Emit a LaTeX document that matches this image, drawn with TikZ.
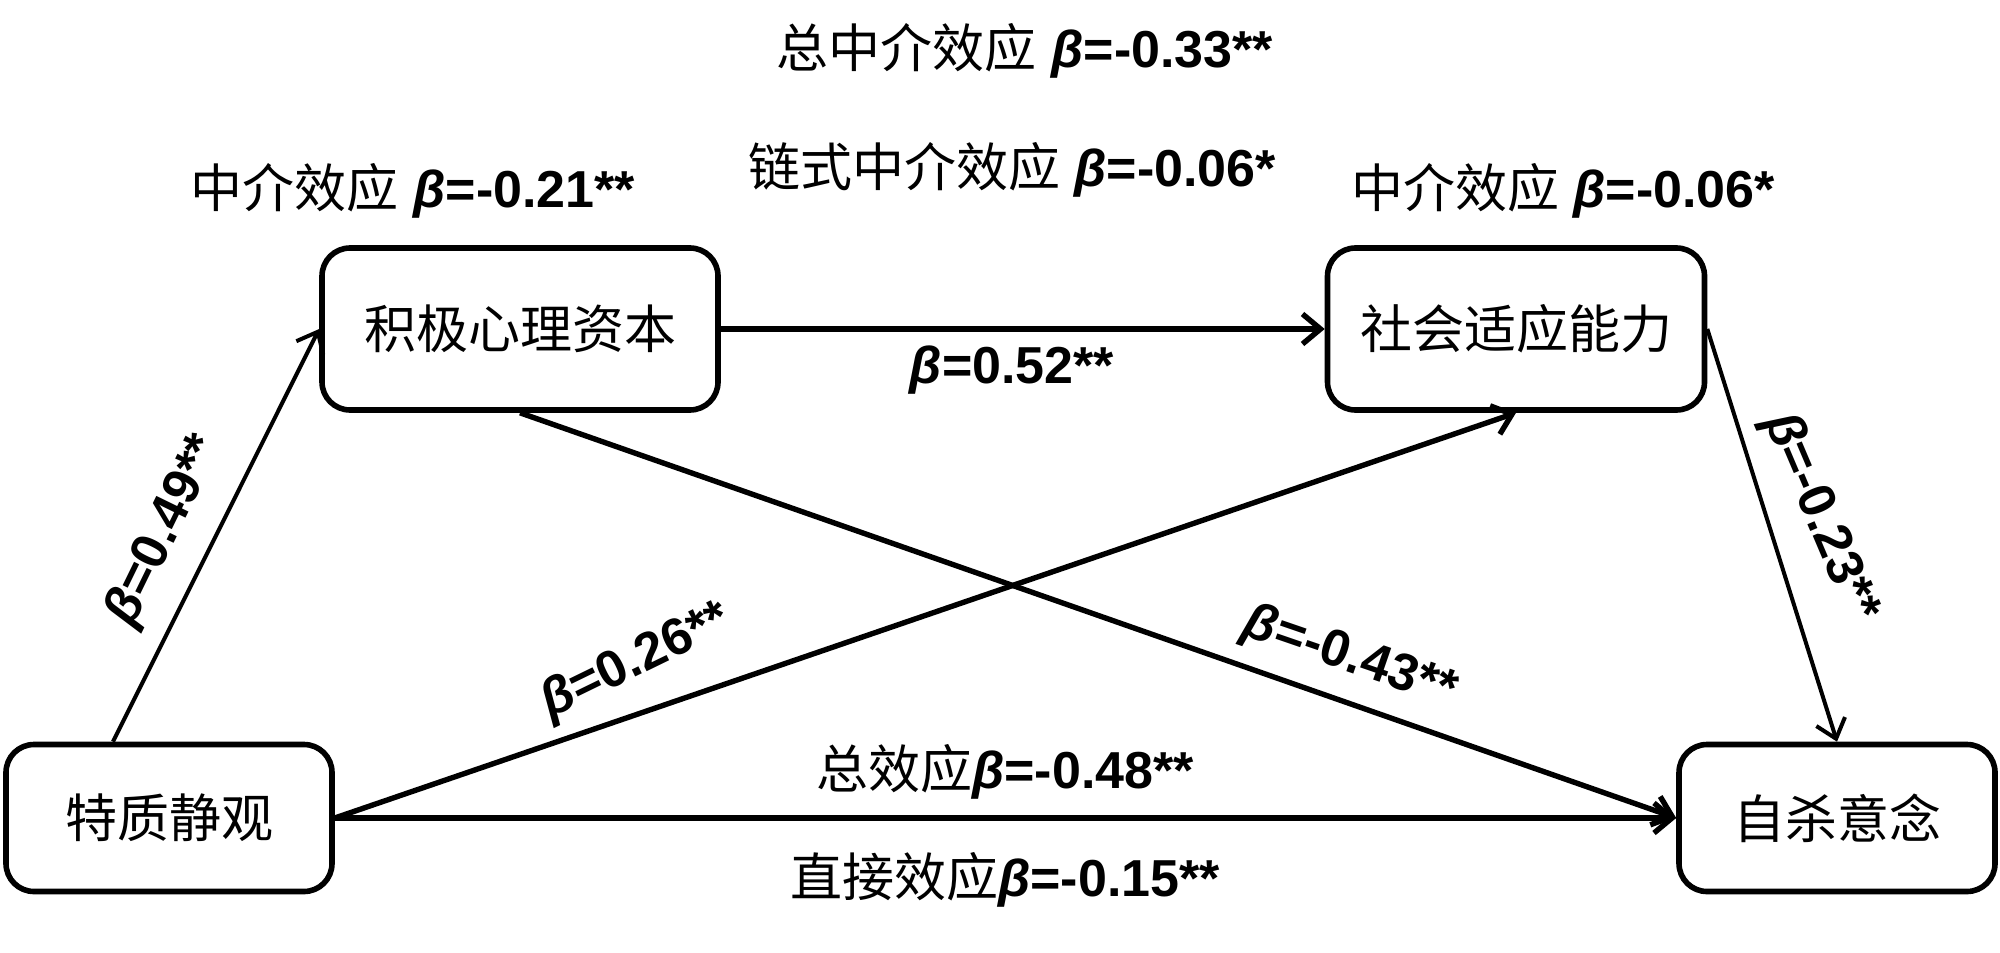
\documentclass[tikz,border=0pt]{standalone}
\usepackage{fontspec}
\setmainfont{Liberation Sans}
\newfontfamily\cjk{Noto Sans CJK SC}
\usetikzlibrary{arrows.meta,calc}
\newcommand{\bv}[1]{\textbf{\textit{β}#1}}
\begin{document}
\begin{tikzpicture}[x=0.5pt,y=-0.5pt,
  box/.style={draw, line width=2.8pt, rounded corners=14pt, font=\cjk\fontsize{26}{30}\selectfont, inner sep=0pt, align=center},
  lab/.style={font=\fontsize{26}{30}\selectfont, inner sep=0pt},
  arr/.style={-{Straight Barb[length=9pt,width=15pt]}, line width=2.7pt},
  arrthin/.style={-{Straight Barb[length=9pt,width=15pt]}, line width=2pt}
]
\fill[white] (0,0) rectangle (2000,952);
\useasboundingbox (0,0) rectangle (2000,952);

\node[box, minimum width=163pt, minimum height=73.5pt] (A) at (169,818) {特质静观};
\node[box, minimum width=198pt, minimum height=81pt] (M1) at (520,329) {积极心理资本};
\node[box, minimum width=188.5pt, minimum height=81pt] (M2) at (1516,329) {社会适应能力};
\node[box, minimum width=158pt, minimum height=73.5pt] (Y) at (1837,818) {自杀意念};

\draw[arrthin] ($(A.north)+(-56,0)$) -- (M1.west);
\draw[arr] (M1.east) -- (M2.west);
\draw[arr] (M1.south) -- (Y.west);
\draw[arr] (A.east) -- (M2.south);
\draw[arr] (A.east) -- (Y.west);
\draw[arrthin] (M2.east) -- (Y.north);

\node[lab] (t1) at (1025,51) {{\cjk 总中介效应} \bv{=-0.33**}};
\node[lab] (t2) at (1012,170) {{\cjk 链式中介效应} \bv{=-0.06*}};
\node[lab] (t3) at (413,191) {{\cjk 中介效应} \bv{=-0.21**}};
\node[lab] (t4) at (1563,191) {{\cjk 中介效应} \bv{=-0.06*}};
\node[lab] (t5) at (1012,370) {\bv{=0.52**}};
\node[lab] (t6) at (1005,772) {{\cjk 总效应}\bv{=-0.48**}};
\node[lab] (t7) at (1005,880) {{\cjk 直接效应}\bv{=-0.15**}};
\node[lab, rotate=64] (t8) at (165,531) {\bv{=0.49**}};
\node[lab, rotate=26] (t9) at (636,662) {\bv{=0.26**}};
\node[lab, rotate=-19] (t10) at (1350,658) {\bv{=-0.43**}};
\node[lab, rotate=-67] (t11) at (1820,518) {\bv{=-0.23**}};
\end{tikzpicture}
\end{document}
